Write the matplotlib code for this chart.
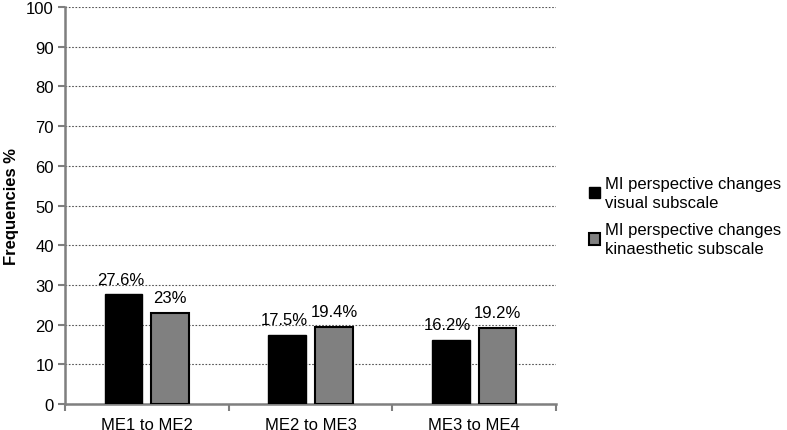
import numpy as np
import matplotlib.pyplot as plt
from matplotlib.ticker import FixedLocator

plt.rcParams['font.family'] = ['Liberation Sans', 'DejaVu Sans']

categories = ['ME1 to ME2', 'ME2 to ME3', 'ME3 to ME4']
visual = [27.6, 17.5, 16.2]
kinaesthetic = [23, 19.4, 19.2]
visual_labels = ['27.6%', '17.5%', '16.2%']
kin_labels = ['23%', '19.4%', '19.2%']
series_names = ['MI perspective changes\nvisual subscale',
                'MI perspective changes\nkinaesthetic subscale']

fig = plt.figure(figsize=(7.87, 4.31), dpi=100)
ax = fig.add_axes([0.0826, 0.0603, 0.624, 0.921])

x = np.arange(len(categories))
w = 0.23
gap = 0.055
b1 = ax.bar(x - (w + gap) / 2, visual, w, color='black', edgecolor='black',
            linewidth=1, label=series_names[0], zorder=3)
b2 = ax.bar(x + (w + gap) / 2, kinaesthetic, w, color='#808080', edgecolor='black',
            linewidth=1.5, label=series_names[1], zorder=3)

# value labels above the bars
for rect, lab in zip(b1, visual_labels):
    ax.text(rect.get_x() + rect.get_width() / 2 - 0.02, rect.get_height() + 2, lab,
            ha='center', va='bottom', fontsize=12)
for rect, lab in zip(b2, kin_labels):
    ax.text(rect.get_x() + rect.get_width() / 2, rect.get_height() + 2, lab,
            ha='center', va='bottom', fontsize=12)

ax.set_xlim(-0.5, 2.5)
ax.set_ylim(0, 100)
ax.set_yticks(range(0, 101, 10))
ax.set_xticks(x)
ax.set_xticklabels(categories, fontsize=12)
ax.xaxis.set_minor_locator(FixedLocator([-0.5, 0.5, 1.5, 2.5]))
ax.tick_params(axis='x', which='major', length=0, pad=9)
ax.tick_params(axis='x', which='minor', length=5, color='#7f7f7f', width=1.5)
ax.tick_params(axis='y', length=5, color='#7f7f7f', width=1.5, labelsize=12, pad=3)

ax.grid(axis='y', linestyle=(0, (1.5, 1.5)), color='#555555', linewidth=0.8, zorder=0)
for s in ['top', 'right']:
    ax.spines[s].set_visible(False)
for s in ['left', 'bottom']:
    ax.spines[s].set_color('#7f7f7f')
    ax.spines[s].set_linewidth(1.8)

ax.set_ylabel('Frequencies %', fontsize=12, fontweight='bold', labelpad=5)

leg = fig.legend(handles=[b1, b2], loc='center left', bbox_to_anchor=(0.749, 0.497),
                 frameon=False, fontsize=12, handlelength=0.65, handleheight=0.65,
                 handletextpad=0.3, labelspacing=0.75, borderaxespad=0, borderpad=0)
for t in leg.get_texts():
    t.set_linespacing(1.3)

fig.savefig('out.png', dpi=100)
